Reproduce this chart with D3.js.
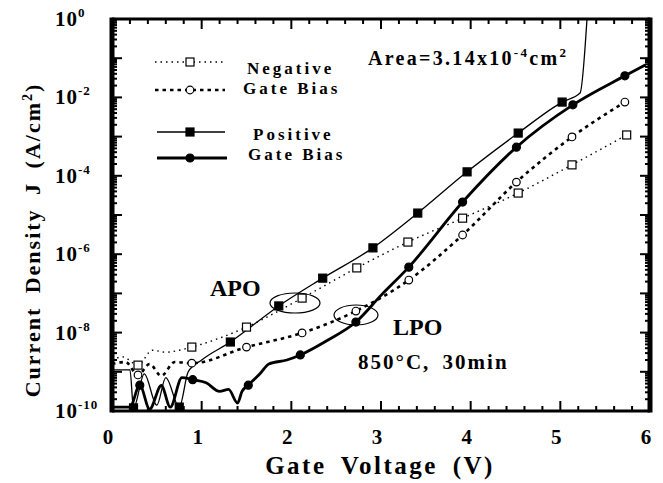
<!DOCTYPE html>
<html lang="en">
<head>
<meta charset="utf-8">
<title>Current Density vs Gate Voltage</title>
<script src="https://cdn.jsdelivr.net/npm/d3@7"></script>
<style>
  body { margin: 0; background: #fff; }
  text { font-family: "Liberation Serif", "Times New Roman", serif; font-weight: bold; fill: #000; }
</style>
</head>
<body>
<svg class="chart" width="663" height="483"></svg>
<script>
var width = 663, height = 483;
var plotL = 112, plotR = 650, plotT = 19, plotB = 411;

// Negative gate bias, APO (thin dotted, open squares)
var negApoV = [0, 0.12, 0.29, 0.45, 0.6, 0.75, 0.89, 1.5, 2.12, 2.73, 3.3, 3.91, 4.53, 5.13, 5.74];
var negApoJ = [2.0e-9, 2.4e-9, 1.48e-9, 3.55e-9, 3.16e-9, 3.55e-9, 4.27e-9, 1.38e-8, 7.59e-8, 4.47e-7, 2.04e-6, 8.3e-6, 3.63e-5, 1.9e-4, 1.1e-3];
var negApoMarks = [2, 6, 7, 8, 9, 10, 11, 12, 13, 14];

// Negative gate bias, LPO (thick dashed, open circles)
var negLpoV = [0, 0.15, 0.29, 0.42, 0.55, 0.7, 0.89, 1.5, 2.12, 2.72, 3.31, 3.91, 4.51, 5.13, 5.72];
var negLpoJ = [1.58e-9, 1.78e-9, 8.3e-10, 1.58e-9, 7.9e-10, 1.78e-9, 1.66e-9, 4.27e-9, 9.8e-9, 3.55e-8, 2.19e-7, 3.09e-6, 6.9e-5, 9.8e-4, 7.6e-3];
var negLpoMarks = [2, 6, 7, 8, 9, 10, 11, 12, 13, 14];

// Positive gate bias, APO (thin solid, filled squares)
var posApoV = [0, 0.2, 0.24, 0.36, 0.5, 0.6, 0.75, 0.85, 1.0, 1.32, 1.86, 2.35, 2.91, 3.41, 3.96, 4.53, 5.02, 5.22, 5.3];
var posApoJ = [1.12e-9, 1.12e-9, 1.2e-10, 8.9e-10, 1.41e-10, 7.1e-10, 1.26e-10, 1.0e-9, 2.0e-9, 5.75e-9, 4.79e-8, 2.45e-7, 1.45e-6, 1.12e-5, 1.26e-4, 1.23e-3, 7.6e-3, 1.29e-2, 1.26];
var posApoMarks = [2, 6, 9, 10, 11, 12, 13, 14, 15, 16];

// Positive gate bias, LPO (thick solid, filled circles)
var posLpoV = [0, 0.2, 0.31, 0.42, 0.55, 0.65, 0.78, 0.9, 1.05, 1.2, 1.3, 1.4, 1.45, 1.52, 1.65, 1.75, 1.95, 2.1, 2.4, 2.72, 3.0, 3.31, 3.91, 4.51, 5.14, 5.72, 5.95];
var posLpoJ = [1.26e-10, 1.26e-10, 4.57e-10, 1.12e-10, 4.47e-10, 1.26e-10, 7.1e-10, 6.3e-10, 5.25e-10, 3.16e-10, 3.55e-10, 1.6e-10, 3.16e-10, 4.57e-10, 8.9e-10, 1.58e-9, 2.0e-9, 2.69e-9, 6.3e-9, 1.86e-8, 8.9e-8, 4.68e-7, 2.14e-5, 5.37e-4, 6.46e-3, 3.55e-2, 6.76e-2];
var posLpoMarks = [2, 7, 13, 17, 19, 21, 22, 23, 24, 25];

var xTicks = [0, 1, 2, 3, 4, 5, 6];
var yExponents = [0, -2, -4, -6, -8, -10];

var series = [
  {v: negApoV, j: negApoJ, marks: negApoMarks, width: 1.4, dash: "1.5,4", shape: "square", filled: false},
  {v: negLpoV, j: negLpoJ, marks: negLpoMarks, width: 2.6, dash: "3.5,4", shape: "circle", filled: false},
  {v: posApoV, j: posApoJ, marks: posApoMarks, width: 1.3, dash: null, shape: "square", filled: true},
  {v: posLpoV, j: posLpoJ, marks: posLpoMarks, width: 2.8, dash: null, shape: "circle", filled: true}
];

var x = d3.scaleLinear().domain([0, 6]).range([plotL, plotR]);
var y = d3.scaleLog().domain([1e-10, 1]).range([plotB, plotT]);

var svg = d3.select("svg.chart");

svg.append("clipPath").attr("id", "plot")
  .append("rect").attr("x", plotL).attr("y", plotT)
  .attr("width", plotR - plotL).attr("height", plotB - plotT);

var line = d3.line()
  .curve(d3.curveMonotoneX)
  .x(function(d) { return x(d[0]); })
  .y(function(d) { return y(d[1]); });

function drawMarker(g, shape, filled, cx, cy) {
  if (shape == "square") {
    g.append("rect").attr("x", cx - 4).attr("y", cy - 4).attr("width", 8).attr("height", 8)
      .attr("fill", filled ? "#000" : "#fff").attr("stroke", "#000").attr("stroke-width", 1.2);
  } else {
    g.append("circle").attr("cx", cx).attr("cy", cy).attr("r", filled ? 4 : 3.8)
      .attr("fill", filled ? "#000" : "#fff").attr("stroke", "#000").attr("stroke-width", 1.2);
  }
}

var plot = svg.append("g").attr("clip-path", "url(#plot)");

series.forEach(function(s) {
  var pts = s.v.map(function(v, i) { return [v, s.j[i]]; });
  plot.append("path")
    .datum(pts)
    .attr("d", line)
    .attr("fill", "none")
    .attr("stroke", "#000")
    .attr("stroke-width", s.width)
    .attr("stroke-dasharray", s.dash);
});
series.forEach(function(s) {
  s.marks.forEach(function(i) {
    drawMarker(plot, s.shape, s.filled, x(s.v[i]), y(s.j[i]));
  });
});

// frame and ticks
var ticks = svg.append("g").attr("stroke", "#000");
d3.range(0, 6.001, 0.2).forEach(function(v) {
  var major = Math.abs(v - Math.round(v)) < 1e-6;
  var len = major ? 10 : 5;
  ticks.append("line").attr("x1", x(v)).attr("x2", x(v)).attr("y1", plotB).attr("y2", plotB - len).attr("stroke-width", 2);
  ticks.append("line").attr("x1", x(v)).attr("x2", x(v)).attr("y1", plotT).attr("y2", plotT + len).attr("stroke-width", 2);
});
for (var e = -10; e < 0; e++) {
  for (var m = 1; m < 10; m++) {
    var val = m * Math.pow(10, e);
    var len = m == 1 ? 10 : 5;
    ticks.append("line").attr("x1", plotL).attr("x2", plotL + len).attr("y1", y(val)).attr("y2", y(val)).attr("stroke-width", 2);
    ticks.append("line").attr("x1", plotR).attr("x2", plotR - len).attr("y1", y(val)).attr("y2", y(val)).attr("stroke-width", 2);
  }
}
svg.append("line").attr("x1", plotL).attr("x2", plotR).attr("y1", plotT).attr("y2", plotT).attr("stroke", "#000").attr("stroke-width", 3);
svg.append("line").attr("x1", plotL).attr("x2", plotR).attr("y1", plotB).attr("y2", plotB).attr("stroke", "#000").attr("stroke-width", 3);
svg.append("line").attr("x1", plotL).attr("x2", plotL).attr("y1", plotT - 1.5).attr("y2", plotB + 1.5).attr("stroke", "#000").attr("stroke-width", 5);
svg.append("line").attr("x1", plotR).attr("x2", plotR).attr("y1", plotT - 1.5).attr("y2", plotB + 1.5).attr("stroke", "#000").attr("stroke-width", 5);

// tick labels
svg.selectAll("text.xtick").data(xTicks).enter().append("text")
  .attr("class", "xtick")
  .attr("x", function(d) { return x(d) - 4; })
  .attr("y", 444)
  .attr("text-anchor", "middle")
  .style("font-size", "21px")
  .text(function(d) { return d; });

var yl = svg.selectAll("text.ytick").data(yExponents).enter().append("text")
  .attr("class", "ytick")
  .attr("x", 55)
  .attr("y", function(d) { return y(Math.pow(10, d)) + 7; })
  .style("font-size", "21px")
  .style("letter-spacing", "1px");
yl.append("tspan").text("10");
yl.append("tspan").attr("dy", -9).style("font-size", "13px").text(function(d) { return d; });

// axis titles
svg.append("text")
  .attr("x", 380).attr("y", 474)
  .attr("text-anchor", "middle")
  .style("font-size", "25px").style("letter-spacing", "2.5px").style("word-spacing", "6px")
  .text("Gate Voltage (V)");

var yt = svg.append("text")
  .attr("transform", "translate(40,240) rotate(-90)")
  .attr("text-anchor", "middle")
  .style("font-size", "22px").style("letter-spacing", "2px").style("word-spacing", "6px");
yt.append("tspan").text("Current Density J (A/cm");
yt.append("tspan").attr("dy", -8).style("font-size", "14px").text("2");
yt.append("tspan").attr("dy", 8).text(")");

// legend
var legend = [
  {s: series[0], y: 62, x1: 155, x2: 225},
  {s: series[1], y: 90, x1: 155, x2: 225},
  {s: series[2], y: 132, x1: 157, x2: 225},
  {s: series[3], y: 158, x1: 157, x2: 227}
];
legend.forEach(function(l) {
  svg.append("line").attr("x1", l.x1).attr("x2", l.x2).attr("y1", l.y).attr("y2", l.y)
    .attr("stroke", "#000").attr("stroke-width", l.s.width).attr("stroke-dasharray", l.s.dash);
  drawMarker(svg, l.s.shape, l.s.filled, 190, l.y);
});
var legendText = [["Negative", 247, 74], ["Gate Bias", 243, 94], ["Positive", 253, 140], ["Gate Bias", 248, 160]];
legendText.forEach(function(t) {
  svg.append("text").attr("x", t[1]).attr("y", t[2])
    .style("font-size", "17px").style("letter-spacing", "3px")
    .text(t[0]);
});

// annotations
var area = svg.append("text").attr("x", 368).attr("y", 65)
  .style("font-size", "20px").style("letter-spacing", "2.3px");
area.append("tspan").text("Area=3.14x10");
area.append("tspan").attr("dy", -8).style("font-size", "13px").text("-4");
area.append("tspan").attr("dy", 8).text("cm");
area.append("tspan").attr("dy", -8).style("font-size", "13px").text("2");

svg.append("text").attr("x", 210).attr("y", 296).style("font-size", "24px").text("APO");
svg.append("text").attr("x", 393).attr("y", 335).style("font-size", "24px").text("LPO");
svg.append("text").attr("x", 358).attr("y", 369)
  .style("font-size", "21px").style("letter-spacing", "2px").style("word-spacing", "5px")
  .text("850°C, 30min");

svg.append("ellipse").attr("cx", 295).attr("cy", 303).attr("rx", 25).attr("ry", 10)
  .attr("fill", "none").attr("stroke", "#000").attr("stroke-width", 1.2);
svg.append("ellipse").attr("cx", 356).attr("cy", 315).attr("rx", 22).attr("ry", 10)
  .attr("fill", "none").attr("stroke", "#000").attr("stroke-width", 1.2);
</script>
</body>
</html>
